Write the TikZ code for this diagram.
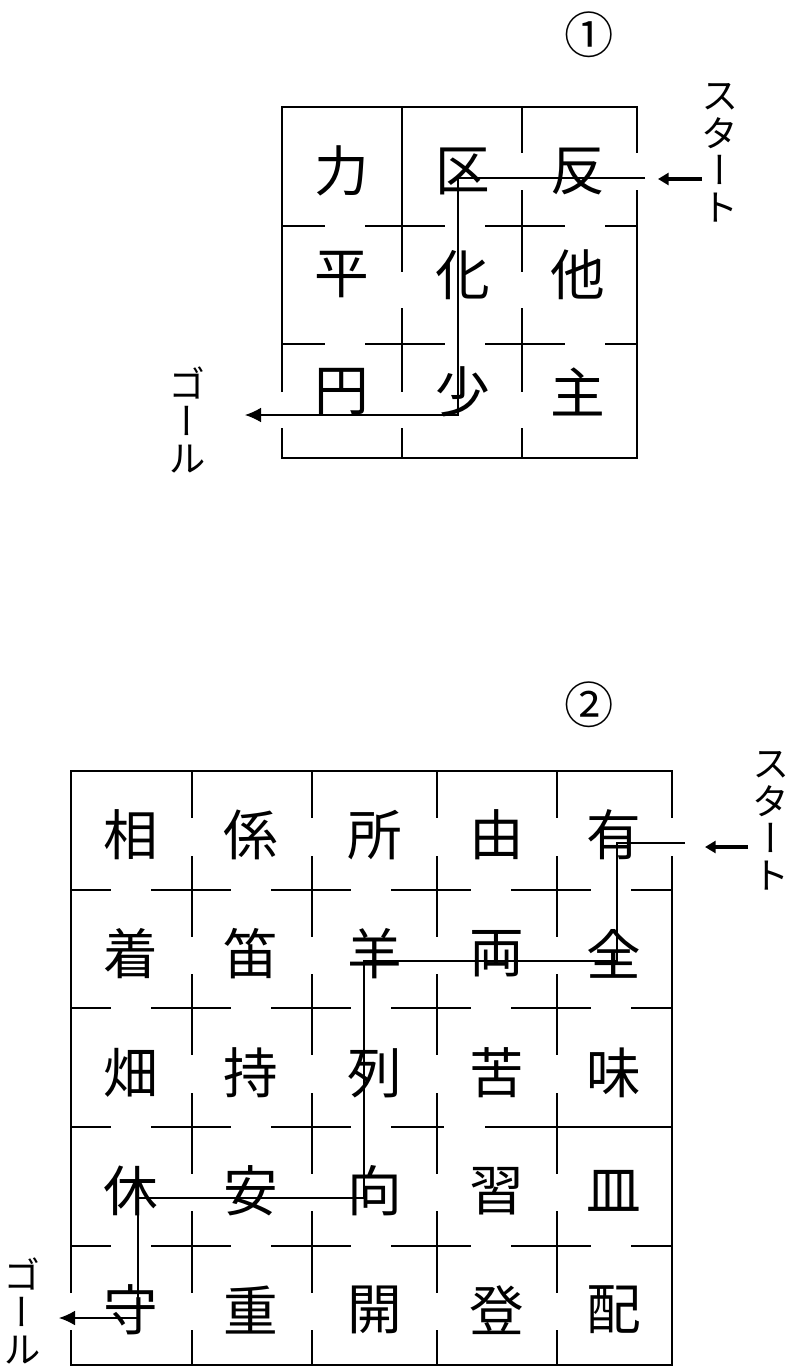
\documentclass[tikz,border=0pt]{standalone}
\usepackage{fontspec}
\newfontfamily\jp{Noto Sans CJK JP}
\newfontfamily\jpv[RawFeature=+vert]{Noto Sans CJK JP}
\usetikzlibrary{arrows.meta}

\begin{document}
\begin{tikzpicture}[x=0.75pt,y=-0.75pt,
  wall/.style={line width=1.5pt},
  route/.style={line width=0.9pt},
  kanji/.style={font=\jp\fontsize{41}{41}\selectfont, inner sep=0pt},
  tate/.style={font=\jpv\fontsize{28}{28}\selectfont, align=center, inner sep=0pt},
  bango/.style={font=\jp\fontsize{37}{37}\selectfont, inner sep=0pt},
  inarrow/.style={line width=3pt, -{Triangle[length=8pt,width=9pt]}},
  outarrow/.style={route, -{Latex[length=12pt,width=11pt]}}]
\useasboundingbox (0,0) rectangle (793,1368);
% numbers:
\node[bango] (n1) at (589,35) {①};
\node[bango] (n2) at (589,705) {②};
% grid 1, walls:
\draw[wall] (282,392) -- (282,107) -- (637,107) -- (637,153);
\draw[wall] (637,190) -- (637,458) -- (282,458) -- (282,428);
\foreach \y in {226,344}
  \foreach \a/\b in {282/325,365/445,485/565,605/637}
    \draw[wall] (\a,\y) -- (\b,\y);
\foreach \a/\b in {107/272,308/392,428/458}
  \draw[wall] (402,\a) -- (402,\b);
\foreach \a/\b in {107/153,190/272,308/392,428/458}
  \draw[wall] (522,\a) -- (522,\b);
% grid 1, letters:
\foreach \t [count=\k from 0] in {力,区,反,平,化,他,円,少,主}{
  \pgfmathtruncatemacro\r{\k/3}
  \pgfmathtruncatemacro\c{\k-3*\r}
  \pgfmathsetmacro\cx{{342,463,578}[\c]}
  \pgfmathsetmacro\cy{{171,275,392}[\r]}
  \node[kanji] (a\r\c) at (\cx,\cy) {\t};
}
% grid 1, route:
\coordinate (s1) at (702,179);
\coordinate (s1t) at (658,179);
\coordinate (r1a) at (645,178);
\coordinate (r1b) at (458,178);
\coordinate (r1c) at (458,415);
\coordinate (g1) at (245,415);
\draw[inarrow] (s1) -- (s1t);
\draw[outarrow] (r1a) -- (r1b) -- (r1c) -- (g1);
\node[tate] (st1) at (720,153) {ス\\タ\\ー\\ト};
\node[tate] (gl1) at (187,420) {ゴ\\ー\\ル};
% grid 2, walls:
\draw[wall] (71,1293) -- (71,771) -- (672,771) -- (672,818);
\draw[wall] (672,856) -- (672,1365) -- (71,1365) -- (71,1330);
\foreach \y in {890,1008,1246}
  \foreach \a/\b in {71/111,151/231,271/351,391/471,511/591,631/672}
    \draw[wall] (\a,\y) -- (\b,\y);
\foreach \a/\b in {71/111,151/231,271/351,391/444,485/672}
  \draw[wall] (\a,1127) -- (\b,1127);
\foreach \x in {192,312,437,557}
  \foreach \a/\b in {771/818,856/937,974/1055,1093/1174,1211/1293,1330/1365}
    \draw[wall] (\x,\a) -- (\x,\b);
% grid 2, letters:
\foreach \t [count=\k from 0] in {相,係,所,由,有,着,笛,羊,両,全,畑,持,列,苦,味,休,安,向,習,皿,守,重,開,登,配}{
  \pgfmathtruncatemacro\r{\k/5}
  \pgfmathtruncatemacro\c{\k-5*\r}
  \pgfmathsetmacro\cx{{131,251,375,497,614}[\c]}
  \pgfmathsetmacro\cy{{835,954,1073,1191,1310}[\r]}
  \node[kanji] (b\r\c) at (\cx,\cy) {\t};
}
% grid 2, route:
\coordinate (s2) at (748,847);
\coordinate (s2t) at (705,847);
\coordinate (r2a) at (685,843);
\coordinate (r2b) at (617,843);
\coordinate (r2c) at (617,961);
\coordinate (r2d) at (364,961);
\coordinate (r2e) at (364,1198);
\coordinate (r2f) at (138,1198);
\coordinate (r2g) at (138,1318);
\coordinate (g2) at (59,1318);
\draw[inarrow] (s2) -- (s2t);
\draw[outarrow] (r2a) -- (r2b) -- (r2c) -- (r2d) -- (r2e) -- (r2f) -- (r2g) -- (g2);
\node[tate] (st2) at (771,821) {ス\\タ\\ー\\ト};
\node[tate] (gl2) at (22,1311) {ゴ\\ー\\ル};
\end{tikzpicture}
\end{document}
